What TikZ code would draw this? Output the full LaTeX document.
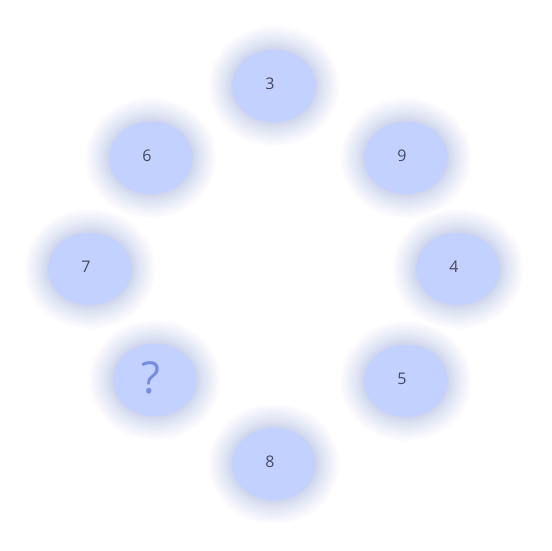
\documentclass[tikz,border=0pt]{standalone}
\usepackage{fontspec}
\setmainfont{Open Sans}
\definecolor{nodefill}{RGB}{194,209,255}
\definecolor{glowcol}{RGB}{100,118,238}
\definecolor{numcol}{RGB}{72,72,96}
\definecolor{qcol}{RGB}{118,142,224}
\tikzset{
  bubble/.style={draw=none, fill=nodefill, ellipse, minimum width=83pt, minimum height=72pt, inner sep=0pt},
  numtext/.style={font=\fontsize{16}{18}\selectfont, text=numcol},
  qtext/.style={font=\fontsize{44}{46}\selectfont, text=qcol}
}
\usetikzlibrary{shapes.geometric}
\begin{document}
\begin{tikzpicture}[x=1pt,y=-1pt]
\fill[white] (0,0) rectangle (551,551);
\useasboundingbox (0,0) rectangle (551,551);
\foreach \cx/\cy in {274/86,151/158,406/158,90/269,458/269,155/380,406/381,274/464}{
  \foreach \i in {0,...,30}{
    \pgfmathsetmacro{\r}{0.03*\i*\i-3}
    \fill[glowcol, opacity=0.016] (\cx,\cy) ellipse [x radius=41.5+\r, y radius=36+\r];
  }
}
\node[bubble] (n3) at (274,86) {};
\node[bubble] (n6) at (151,158) {};
\node[bubble] (n9) at (406,158) {};
\node[bubble] (n7) at (90,269) {};
\node[bubble] (n4) at (458,269) {};
\node[bubble] (nq) at (155,380) {};
\node[bubble] (n5) at (406,381) {};
\node[bubble] (n8) at (274,464) {};
\node[numtext] (t3) at (270,84) {3};
\node[numtext] (t6) at (147,156) {6};
\node[numtext] (t9) at (402,156) {9};
\node[numtext] (t7) at (86,267) {7};
\node[numtext] (t4) at (454,267) {4};
\node[qtext] (tq) at (151,378) {?};
\node[numtext] (t5) at (402,379) {5};
\node[numtext] (t8) at (270,462) {8};
\end{tikzpicture}
\end{document}
